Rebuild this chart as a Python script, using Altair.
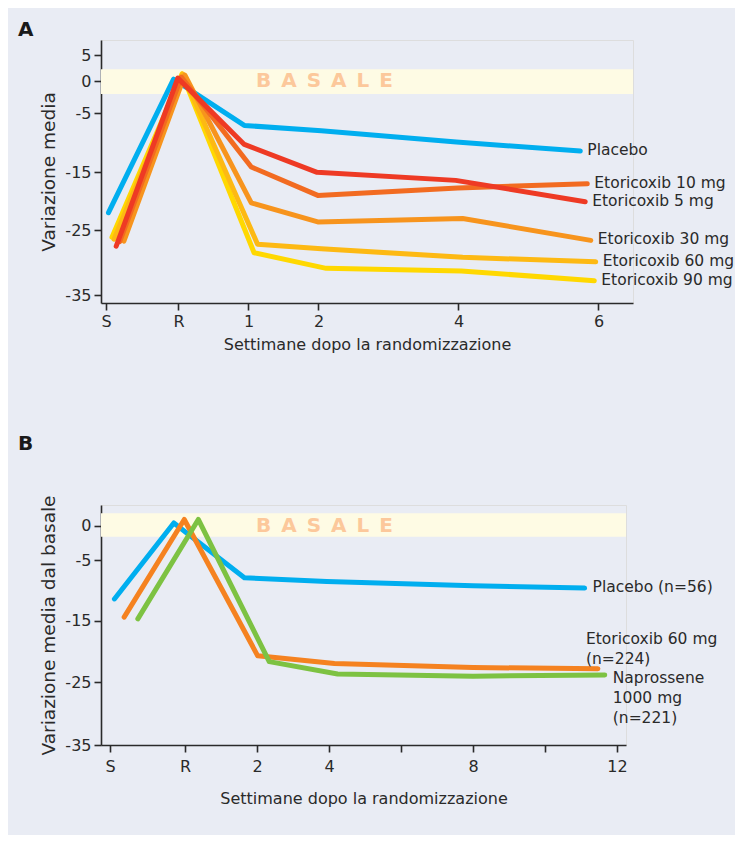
import altair as alt
import pandas as pd

FONT = "DejaVu Sans"
TEXT = "#2a2a2a"
AXIS = "#2a2a2a"
BG = "#e9ecf4"
BAND = "#fefbe4"
BASALE_COLOR = "#fcc89b"

# ---------------- Panel A ----------------
A_series = ["Placebo", "Etoricoxib 90 mg", "Etoricoxib 60 mg",
            "Etoricoxib 30 mg", "Etoricoxib 10 mg", "Etoricoxib 5 mg"]
A_colors = ["#00aeef", "#ffd800", "#fdb913", "#f7941d", "#f26b21", "#ee3a24"]
A_weeks = {
    "Placebo":          [-1.00, -0.07, 0.94, 2.04, 3.97, 5.74],
    "Etoricoxib 90 mg": [-0.95, 0.05, 1.08, 2.11, 4.04, 5.94],
    "Etoricoxib 60 mg": [-0.92, 0.06, 1.13, 2.04, 4.06, 5.96],
    "Etoricoxib 30 mg": [-0.78, 0.09, 1.04, 1.99, 4.06, 5.89],
    "Etoricoxib 10 mg": [-0.84, 0.04, 1.04, 1.99, 3.99, 5.84],
    "Etoricoxib 5 mg":  [-0.89, -0.01, 0.94, 1.98, 3.96, 5.81],
}
A_values = {
    "Placebo":          [-22.0, 0.4, -7.1, -8.0, -9.9, -11.4],
    "Etoricoxib 90 mg": [-26.1, 1.4, -28.5, -30.9, -31.3, -32.8],
    "Etoricoxib 60 mg": [-26.4, 1.4, -27.2, -27.9, -29.2, -29.9],
    "Etoricoxib 30 mg": [-26.7, 1.2, -20.3, -23.6, -23.0, -26.6],
    "Etoricoxib 10 mg": [-26.8, 0.8, -14.1, -19.0, -17.7, -17.0],
    "Etoricoxib 5 mg":  [-27.5, 0.6, -10.3, -15.0, -16.4, -20.1],
}
A_tick_values = [-1.036, 0, 1, 2, 4, 6]
A_y_ticks = [5, 0, -5, -15, -25, -35]
A_x_domain = [-1.107, 6.493]
A_y_domain = [-36.23, -35, -25, -15, -5, 0, 5, 7.85]
A_y_range = [263, 255, 190, 132.3, 73, 41.3, 15, 0]
A_band = [-2.0, 2.3]

# ---------------- Panel B ----------------
B_series = ["Placebo (n=56)", "Etoricoxib 60 mg\n(n=224)", "Naprossene\n1000 mg\n(n=221)"]
B_colors = ["#00aeef", "#f58220", "#7dc242"]
B_weeks = {
    B_series[0]: [-1.96, -0.31, 1.65, 3.94, 8.0, 11.10],
    B_series[1]: [-1.69, -0.02, 2.02, 4.15, 8.0, 11.47],
    B_series[2]: [-1.31, 0.37, 2.34, 4.24, 8.0, 11.66],
}
B_values = {
    B_series[0]: [-11.4, 0.4, -7.9, -8.5, -9.2, -9.6],
    B_series[1]: [-14.4, 0.9, -20.7, -21.95, -22.6, -22.8],
    B_series[2]: [-14.7, 0.9, -21.65, -23.65, -24.0, -23.8],
}
B_tick_values = [-2.08, 0, 2, 4, 6, 8, 10, 12]
B_y_ticks = [0, -5, -15, -25, -35]
B_x_domain = [-2.333, 12.25]
B_y_domain = [-35, -25, -15, -5, 0, 3.0]
B_y_range = [240, 177.3, 115.7, 55.3, 20.7, 0]
B_band = [-1.6, 1.8]

BASALE = "\u2002".join("BASALE")


def long_df(series, weeks, values):
    rows = []
    for s in series:
        for i, (w, v) in enumerate(zip(weeks[s], values[s])):
            rows.append({"serie": s, "i": i, "w": w, "v": v})
    return pd.DataFrame(rows)


def panel(series, colors, weeks, values, x_dom, y_dom, y_rng, xticks, yticks,
          band, label_expr, x_lab_pad, x_title_pad, y_title, basale_x, letter, letter_y):
    df = long_df(series, weeks, values)
    xs = alt.Scale(domain=x_dom, nice=False, zero=False)
    ys = alt.Scale(domain=y_dom, range=y_rng, nice=False, zero=False)
    xax = alt.Axis(values=xticks, labelExpr=label_expr, title="Settimane dopo la randomizzazione",
                   grid=False, tickSize=7, labelPadding=x_lab_pad, titlePadding=x_title_pad,
                   labelFontSize=16, titleFontSize=16, titleFontWeight="normal",
                   domainColor=AXIS, tickColor=AXIS, domainWidth=1.6, tickWidth=1.6,
                   labelColor=TEXT, titleColor=TEXT, labelFont=FONT, titleFont=FONT)
    yax = alt.Axis(values=yticks, labelExpr="'' + datum.value", title=y_title, grid=False,
                   tickSize=7, labelPadding=3,
                   titlePadding=6, labelFontSize=16, titleFontSize=18.5, titleFontWeight="normal",
                   domainColor=AXIS, tickColor=AXIS, domainWidth=1.6, tickWidth=1.6,
                   labelColor=TEXT, titleColor=TEXT, labelFont=FONT, titleFont=FONT)

    band_df = pd.DataFrame([{"x1": x_dom[0], "x2": x_dom[1], "y1": band[0], "y2": band[1]}])
    band_layer = alt.Chart(band_df).mark_rect(color=BAND).encode(
        x=alt.X("x1:Q", scale=xs, axis=xax), x2="x2:Q",
        y=alt.Y("y1:Q", scale=ys, axis=yax), y2="y2:Q")

    bas_df = pd.DataFrame([{"x": basale_x, "y": 0, "t": BASALE}])
    bas_layer = alt.Chart(bas_df).mark_text(
        align="left", baseline="middle", font=FONT, fontSize=20, fontWeight="bold",
        color=BASALE_COLOR).encode(x=alt.X("x:Q", scale=xs), y=alt.Y("y:Q", scale=ys), text="t:N")

    letter_layer = alt.Chart(pd.DataFrame([{"t": letter}])).mark_text(
        align="left", baseline="alphabetic", font=FONT, fontSize=20, fontWeight="bold",
        color="#1a1a1a").encode(x=alt.value(-83), y=alt.value(letter_y), text="t:N")

    lines = alt.Chart(df).mark_line(strokeWidth=5, strokeCap="round", strokeJoin="round").encode(
        x=alt.X("w:Q", scale=xs),
        y=alt.Y("v:Q", scale=ys),
        color=alt.Color("serie:N", scale=alt.Scale(domain=series, range=colors), legend=None),
        order="i:Q")
    return df, xs, ys, [band_layer, bas_layer, letter_layer, lines]


dfA, xsA, ysA, layersA = panel(
    A_series, A_colors, A_weeks, A_values, A_x_domain, A_y_domain, A_y_range,
    A_tick_values, A_y_ticks, A_band,
    "datum.value < -0.5 ? 'S' : (datum.value == 0 ? 'R' : '' + datum.value)",
    3, 7, "Variazione media", 1.107, "A", -4)

endA = dfA[dfA["i"] == 5]
labA = alt.Chart(endA).mark_text(align="left", baseline="middle", dx=7, dy=-1,
                                 font=FONT, fontSize=15.5, color=TEXT).encode(
    x=alt.X("w:Q", scale=xsA), y=alt.Y("v:Q", scale=ysA), text="serie:N")

chartA = alt.layer(*layersA, labA).properties(width=532, height=263)

dfB, xsB, ysB, layersB = panel(
    B_series, B_colors, B_weeks, B_values, B_x_domain, B_y_domain, B_y_range,
    B_tick_values, B_y_ticks, B_band,
    "datum.value < -1 ? 'S' : (datum.value == 0 ? 'R' : ((datum.value == 6 || datum.value == 10) ? '' : '' + datum.value))",
    6, 16, "Variazione media dal basale", 1.97, "B", -55)

endB = dfB[dfB["i"] == 5]
labB1 = alt.Chart(endB[endB["serie"] == B_series[0]]).mark_text(
    align="left", baseline="middle", dx=8, dy=-1, font=FONT, fontSize=15.5, color=TEXT).encode(
    x=alt.X("w:Q", scale=xsB), y=alt.Y("v:Q", scale=ysB), text="serie:N")
labB2 = alt.Chart(endB[endB["serie"] == B_series[1]]).mark_text(
    align="left", baseline="alphabetic", dx=-12, dy=-25, lineBreak="\n", lineHeight=20,
    font=FONT, fontSize=15.5, color=TEXT).encode(
    x=alt.X("w:Q", scale=xsB), y=alt.Y("v:Q", scale=ysB), text="serie:N")
labB3 = alt.Chart(endB[endB["serie"] == B_series[2]]).mark_text(
    align="left", baseline="alphabetic", dx=8, dy=8, lineBreak="\n", lineHeight=20,
    font=FONT, fontSize=15.5, color=TEXT).encode(
    x=alt.X("w:Q", scale=xsB), y=alt.Y("v:Q", scale=ysB), text="serie:N")

chartB = alt.layer(*layersB, labB1, labB2, labB3).properties(width=525, height=240)

chart = alt.vconcat(chartA, chartB, spacing=80).resolve_scale(
    color="independent", x="independent", y="independent"
).properties(
    background=BG,
    padding={"left": 9, "top": 11, "right": 0, "bottom": 28},
).configure_view(stroke=None).configure(font=FONT)

chart.save("out.html", embed_options={"renderer": "svg", "actions": False})
